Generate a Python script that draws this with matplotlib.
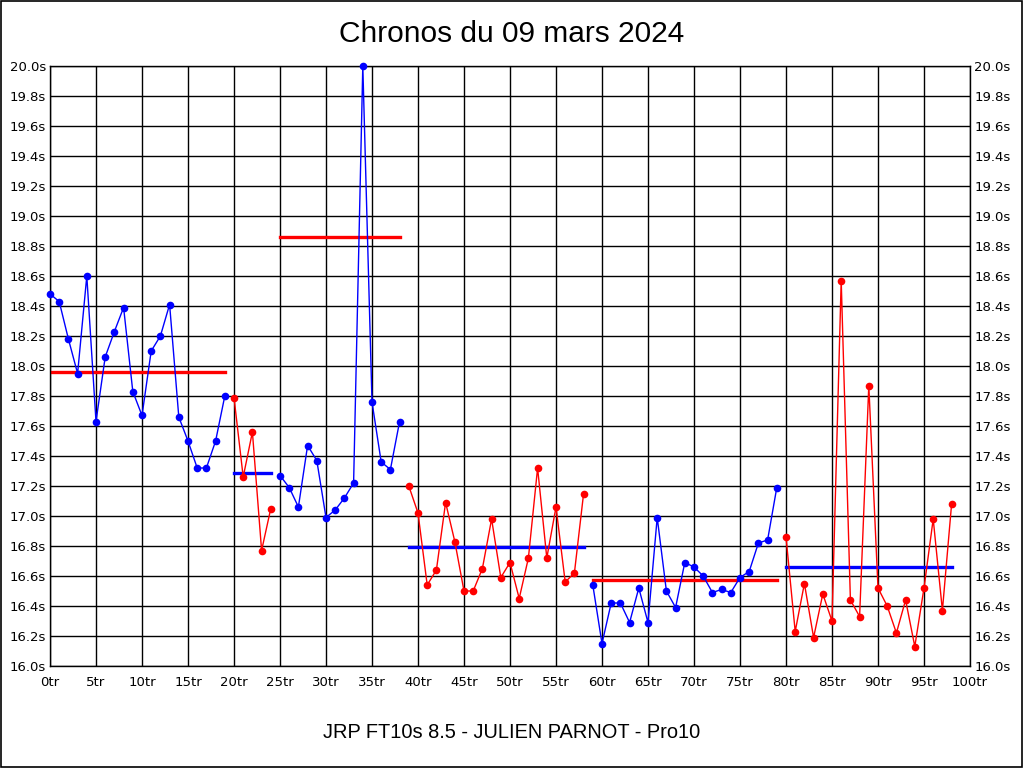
import matplotlib
matplotlib.use('Agg')
import matplotlib.pyplot as plt
import numpy as np
from matplotlib.patches import Rectangle

# temps au tour (s), tours 0..98
laps = np.arange(0, 99)
times = [
    18.48, 18.43, 18.18, 17.95, 18.60, 17.63, 18.06, 18.23, 18.39, 17.83,
    17.67, 18.10, 18.20, 18.41, 17.66, 17.50, 17.32, 17.32, 17.50, 17.80,
    17.79, 17.26, 17.56, 16.77, 17.05,
    17.27, 17.19, 17.06, 17.47, 17.37, 16.99, 17.04, 17.12, 17.22, 39.25,
    17.76, 17.36, 17.31, 17.63,
    17.20, 17.02, 16.54, 16.64, 17.09, 16.83, 16.50, 16.50, 16.65, 16.98,
    16.59, 16.69, 16.45, 16.72, 17.32, 16.72, 17.06, 16.56, 16.62, 17.15,
    16.54, 16.15, 16.42, 16.42, 16.29, 16.52, 16.29, 16.99, 16.50, 16.39,
    16.69, 16.66, 16.60, 16.49, 16.51, 16.49, 16.59, 16.63, 16.82, 16.84,
    17.19,
    16.86, 16.23, 16.55, 16.19, 16.48, 16.30, 18.57, 16.44, 16.33, 17.87,
    16.52, 16.40, 16.22, 16.44, 16.13, 16.52, 16.98, 16.37, 17.08,
]
# relais : (premier tour, dernier tour)
stints = [(0, 19), (20, 24), (25, 38), (39, 58), (59, 79), (80, 98)]
stint_colors = ['#0000FF', '#FF0000'] * 3
mean_colors = ['#FF0000', '#0000FF'] * 3

y_min, y_max = 16.0, 20.0
times = np.array(times)
shown = np.clip(times, y_min, y_max)  # le tour 34 sort du cadre

fig = plt.figure(figsize=(10.24, 7.68), dpi=100)
ax = fig.add_axes([50 / 1024, 1 - 666 / 768, 920 / 1024, 600 / 768])

for (a, b), c, mc in zip(stints, stint_colors, mean_colors):
    idx = (laps >= a) & (laps <= b)
    ax.plot(laps[idx], shown[idx], '-', color=c, lw=1.0, marker='o',
            markersize=5.5, markeredgewidth=0, zorder=3, clip_on=False)
    ax.plot([a, b], [times[idx].mean()] * 2, '-', color=mc, lw=2.4, zorder=2)

ax.set_xlim(0, 100)
ax.set_ylim(y_min, y_max)
xt = np.arange(0, 101, 5)
yt = np.round(np.arange(16.0, 20.01, 0.2), 1)
ax.set_xticks(xt)
ax.set_xticklabels([f'{v}tr' for v in xt])
ax.set_yticks(yt)
ax.set_yticklabels([f'{v:.1f}s' for v in yt])
ax.tick_params(axis='both', length=0, labelsize=9.5, colors='black')
ax.tick_params(axis='x', pad=7)
ax.tick_params(axis='y', pad=3, right=True, labelright=True)
ax.grid(True, color='black', lw=1.0)
for s in ax.spines.values():
    s.set_color('black')
    s.set_linewidth(1.0)

fig.text(0.5, 1 - 34 / 768, 'Chronos du 09 mars 2024', ha='center', va='center',
         fontsize=21.5, family='Liberation Sans')
fig.text(0.5, 1 - 733 / 768, 'JRP FT10s 8.5 - JULIEN PARNOT - Pro10', ha='center',
         va='center', fontsize=14.4, family='Liberation Sans')

fig.patches.append(Rectangle((0.0005, 0.0007), 0.998, 0.998, transform=fig.transFigure,
                             fill=False, edgecolor='black', lw=1.2))

fig.savefig('out.png', dpi=100)
